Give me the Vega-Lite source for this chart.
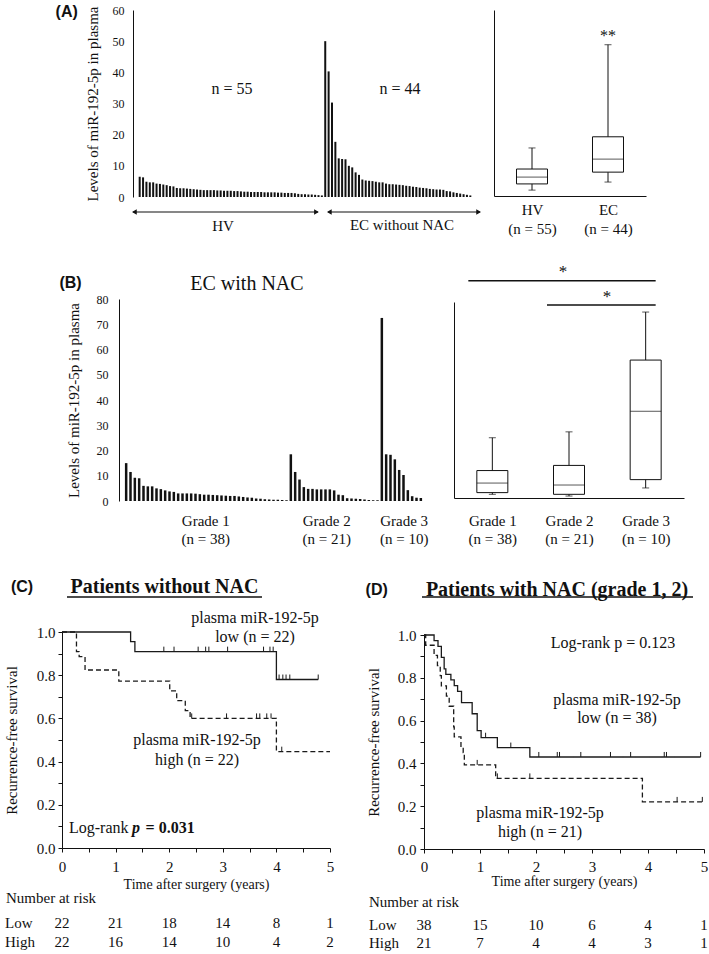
{
"$schema": "https://vega.github.io/schema/vega-lite/v6.json",
"width": 709,
"height": 954,
"autosize": {"type": "none"},
"padding": 0,
"background": "white",
"config": {
  "view": {"stroke": null},
  "axis": {"labelFont": "Liberation Serif", "titleFont": "Liberation Serif", "labelColor": "#111", "titleColor": "#111", "domainColor": "#111", "tickColor": "#111", "grid": false, "titleFontWeight": "normal", "labelFlush": false, "labelOverlap": false, "domainWidth": 1},
  "text": {"font": "Liberation Serif", "color": "#111"},
  "legend": {"disable": true}
},
"data": {"values": [{}]},
"datasets": {
  "barsA": [
    {"i":1,"g":"HV","v":6.5},{"i":2,"g":"HV","v":6.3},{"i":3,"g":"HV","v":4.9},{"i":4,"g":"HV","v":4.7},{"i":5,"g":"HV","v":4.7},{"i":6,"g":"HV","v":4.3},{"i":7,"g":"HV","v":4.2},{"i":8,"g":"HV","v":4.0},{"i":9,"g":"HV","v":3.8},{"i":10,"g":"HV","v":3.5},
    {"i":11,"g":"HV","v":3.4},{"i":12,"g":"HV","v":2.9},{"i":13,"g":"HV","v":2.8},{"i":14,"g":"HV","v":2.8},{"i":15,"g":"HV","v":2.7},{"i":16,"g":"HV","v":2.6},{"i":17,"g":"HV","v":2.5},{"i":18,"g":"HV","v":2.4},{"i":19,"g":"HV","v":2.3},{"i":20,"g":"HV","v":2.2},
    {"i":21,"g":"HV","v":2.2},{"i":22,"g":"HV","v":2.2},{"i":23,"g":"HV","v":2.2},{"i":24,"g":"HV","v":2.1},{"i":25,"g":"HV","v":2.1},{"i":26,"g":"HV","v":2.0},{"i":27,"g":"HV","v":2.0},{"i":28,"g":"HV","v":2.0},{"i":29,"g":"HV","v":1.9},{"i":30,"g":"HV","v":1.9},
    {"i":31,"g":"HV","v":1.8},{"i":32,"g":"HV","v":1.7},{"i":33,"g":"HV","v":1.7},{"i":34,"g":"HV","v":1.6},{"i":35,"g":"HV","v":1.6},{"i":36,"g":"HV","v":1.6},{"i":37,"g":"HV","v":1.6},{"i":38,"g":"HV","v":1.5},{"i":39,"g":"HV","v":1.5},{"i":40,"g":"HV","v":1.5},
    {"i":41,"g":"HV","v":1.5},{"i":42,"g":"HV","v":1.4},{"i":43,"g":"HV","v":1.4},{"i":44,"g":"HV","v":1.3},{"i":45,"g":"HV","v":1.3},{"i":46,"g":"HV","v":1.3},{"i":47,"g":"HV","v":1.2},{"i":48,"g":"HV","v":1.0},{"i":49,"g":"HV","v":0.9},{"i":50,"g":"HV","v":0.9},
    {"i":51,"g":"HV","v":0.8},{"i":52,"g":"HV","v":0.8},{"i":53,"g":"HV","v":0.7},{"i":54,"g":"HV","v":0.6},{"i":55,"g":"HV","v":0.5},
    {"i":56,"g":"EC","v":50},{"i":57,"g":"EC","v":40.3},{"i":58,"g":"EC","v":30.3},{"i":59,"g":"EC","v":17.7},{"i":60,"g":"EC","v":12.4},{"i":61,"g":"EC","v":12.2},{"i":62,"g":"EC","v":12.1},{"i":63,"g":"EC","v":10.0},{"i":64,"g":"EC","v":9.5},{"i":65,"g":"EC","v":7.9},
    {"i":66,"g":"EC","v":7.1},{"i":67,"g":"EC","v":5.6},{"i":68,"g":"EC","v":5.3},{"i":69,"g":"EC","v":5.2},{"i":70,"g":"EC","v":5.1},{"i":71,"g":"EC","v":4.9},{"i":72,"g":"EC","v":4.7},{"i":73,"g":"EC","v":4.7},{"i":74,"g":"EC","v":4.3},{"i":75,"g":"EC","v":4.1},
    {"i":76,"g":"EC","v":4.1},{"i":77,"g":"EC","v":4.0},{"i":78,"g":"EC","v":3.9},{"i":79,"g":"EC","v":3.8},{"i":80,"g":"EC","v":3.6},{"i":81,"g":"EC","v":3.5},{"i":82,"g":"EC","v":3.3},{"i":83,"g":"EC","v":3.2},{"i":84,"g":"EC","v":3.0},{"i":85,"g":"EC","v":2.9},
    {"i":86,"g":"EC","v":2.8},{"i":87,"g":"EC","v":2.6},{"i":88,"g":"EC","v":2.5},{"i":89,"g":"EC","v":2.4},{"i":90,"g":"EC","v":2.4},{"i":91,"g":"EC","v":2.3},{"i":92,"g":"EC","v":1.9},{"i":93,"g":"EC","v":1.8},{"i":94,"g":"EC","v":1.5},{"i":95,"g":"EC","v":1.3},
    {"i":96,"g":"EC","v":1.1},{"i":97,"g":"EC","v":0.9},{"i":98,"g":"EC","v":0.7},{"i":99,"g":"EC","v":0.5}
  ],
  "barsB": [
    {"i":1,"g":"Grade 1","v":15},{"i":2,"g":"Grade 1","v":11.5},{"i":3,"g":"Grade 1","v":9.2},{"i":4,"g":"Grade 1","v":9},{"i":5,"g":"Grade 1","v":6},{"i":6,"g":"Grade 1","v":5.8},{"i":7,"g":"Grade 1","v":5.8},{"i":8,"g":"Grade 1","v":5},{"i":9,"g":"Grade 1","v":4.7},{"i":10,"g":"Grade 1","v":4.2},
    {"i":11,"g":"Grade 1","v":3.8},{"i":12,"g":"Grade 1","v":3.6},{"i":13,"g":"Grade 1","v":3.0},{"i":14,"g":"Grade 1","v":3.0},{"i":15,"g":"Grade 1","v":3.0},{"i":16,"g":"Grade 1","v":3.0},{"i":17,"g":"Grade 1","v":2.9},{"i":18,"g":"Grade 1","v":2.7},{"i":19,"g":"Grade 1","v":2.5},{"i":20,"g":"Grade 1","v":2.5},
    {"i":21,"g":"Grade 1","v":2.4},{"i":22,"g":"Grade 1","v":2.3},{"i":23,"g":"Grade 1","v":2.2},{"i":24,"g":"Grade 1","v":2.1},{"i":25,"g":"Grade 1","v":2.0},{"i":26,"g":"Grade 1","v":2.0},{"i":27,"g":"Grade 1","v":1.8},{"i":28,"g":"Grade 1","v":1.6},{"i":29,"g":"Grade 1","v":1.4},{"i":30,"g":"Grade 1","v":1.3},
    {"i":31,"g":"Grade 1","v":1.0},{"i":32,"g":"Grade 1","v":0.9},{"i":33,"g":"Grade 1","v":0.7},{"i":34,"g":"Grade 1","v":0.6},{"i":35,"g":"Grade 1","v":0.5},{"i":36,"g":"Grade 1","v":0.5},{"i":37,"g":"Grade 1","v":0.4},{"i":38,"g":"Grade 1","v":0.3},
    {"i":39,"g":"Grade 2","v":18.5},{"i":40,"g":"Grade 2","v":11.5},{"i":41,"g":"Grade 2","v":8.5},{"i":42,"g":"Grade 2","v":5.5},{"i":43,"g":"Grade 2","v":4.8},{"i":44,"g":"Grade 2","v":4.8},{"i":45,"g":"Grade 2","v":4.6},{"i":46,"g":"Grade 2","v":4.6},{"i":47,"g":"Grade 2","v":4.6},{"i":48,"g":"Grade 2","v":4.6},
    {"i":49,"g":"Grade 2","v":4.2},{"i":50,"g":"Grade 2","v":2.5},{"i":51,"g":"Grade 2","v":2.3},{"i":52,"g":"Grade 2","v":1.1},{"i":53,"g":"Grade 2","v":1.0},{"i":54,"g":"Grade 2","v":0.9},{"i":55,"g":"Grade 2","v":0.8},{"i":56,"g":"Grade 2","v":0.6},{"i":57,"g":"Grade 2","v":0.4},{"i":58,"g":"Grade 2","v":0.3},
    {"i":59,"g":"Grade 2","v":0.3},
    {"i":60,"g":"Grade 3","v":72.5},{"i":61,"g":"Grade 3","v":18.5},{"i":62,"g":"Grade 3","v":18.3},{"i":63,"g":"Grade 3","v":16.5},{"i":64,"g":"Grade 3","v":12.3},{"i":65,"g":"Grade 3","v":10.3},{"i":66,"g":"Grade 3","v":4.3},{"i":67,"g":"Grade 3","v":1.9},{"i":68,"g":"Grade 3","v":1.3},{"i":69,"g":"Grade 3","v":1.2}
  ],
  "boxA": [
    {"g":"HV","min":1.9,"q1":3.9,"med":6.1,"q3":8.7,"max":15.5},
    {"g":"EC","min":4.5,"q1":7.7,"med":11.9,"q3":19.1,"max":48.8}
  ],
  "boxB": [
    {"g":"Grade 1","min":1.5,"q1":2.2,"med":6.1,"q3":11.2,"max":24.6},
    {"g":"Grade 2","min":0.8,"q1":1.5,"med":5.3,"q3":13.3,"max":27},
    {"g":"Grade 3","min":4.1,"q1":7.5,"med":35.4,"q3":56.3,"max":75.9}
  ],
  "kmC": [
    {"grp":"low","t":0,"s":1},{"grp":"low","t":1.28,"s":0.955},{"grp":"low","t":1.36,"s":0.909},{"grp":"low","t":4.0,"s":0.78},{"grp":"low","t":4.78,"s":0.78},
    {"grp":"high","t":0,"s":1},{"grp":"high","t":0.27,"s":0.909},{"grp":"high","t":0.32,"s":0.886},{"grp":"high","t":0.43,"s":0.824},{"grp":"high","t":1.06,"s":0.773},{"grp":"high","t":2.01,"s":0.727},{"grp":"high","t":2.14,"s":0.682},{"grp":"high","t":2.3,"s":0.636},{"grp":"high","t":2.39,"s":0.6},{"grp":"high","t":4.0,"s":0.446},{"grp":"high","t":5.0,"s":0.446}
  ],
  "censC": [
    {"grp":"low","t":1.9,"s":0.909},{"grp":"low","t":2.09,"s":0.909},{"grp":"low","t":2.54,"s":0.909},{"grp":"low","t":2.68,"s":0.909},{"grp":"low","t":2.74,"s":0.909},{"grp":"low","t":3.09,"s":0.909},{"grp":"low","t":3.76,"s":0.909},{"grp":"low","t":3.88,"s":0.909},{"grp":"low","t":3.94,"s":0.909},
    {"grp":"low","t":4.05,"s":0.78},{"grp":"low","t":4.12,"s":0.78},{"grp":"low","t":4.18,"s":0.78},{"grp":"low","t":4.25,"s":0.78},{"grp":"low","t":4.78,"s":0.78},
    {"grp":"high","t":2.42,"s":0.6},{"grp":"high","t":3.07,"s":0.6},{"grp":"high","t":3.63,"s":0.6},{"grp":"high","t":3.69,"s":0.6},{"grp":"high","t":3.82,"s":0.6},{"grp":"high","t":3.9,"s":0.6},{"grp":"high","t":4.1,"s":0.446}
  ],
  "riskC": [
    {"grp":"Low","t":0,"n":22},{"grp":"Low","t":1,"n":21},{"grp":"Low","t":2,"n":18},{"grp":"Low","t":3,"n":14},{"grp":"Low","t":4,"n":8},{"grp":"Low","t":5,"n":1},
    {"grp":"High","t":0,"n":22},{"grp":"High","t":1,"n":16},{"grp":"High","t":2,"n":14},{"grp":"High","t":3,"n":10},{"grp":"High","t":4,"n":4},{"grp":"High","t":5,"n":2}
  ],
  "kmD": [
    {"grp":"low","t":0,"s":1},{"grp":"low","t":0.18,"s":0.974},{"grp":"low","t":0.25,"s":0.947},{"grp":"low","t":0.31,"s":0.895},{"grp":"low","t":0.36,"s":0.842},{"grp":"low","t":0.39,"s":0.816},{"grp":"low","t":0.48,"s":0.79},{"grp":"low","t":0.54,"s":0.763},{"grp":"low","t":0.6,"s":0.737},{"grp":"low","t":0.67,"s":0.684},{"grp":"low","t":0.86,"s":0.632},{"grp":"low","t":0.95,"s":0.553},{"grp":"low","t":1.02,"s":0.52},{"grp":"low","t":1.31,"s":0.474},{"grp":"low","t":1.89,"s":0.43},{"grp":"low","t":4.94,"s":0.43},
    {"grp":"high","t":0,"s":1},{"grp":"high","t":0.03,"s":0.952},{"grp":"high","t":0.18,"s":0.905},{"grp":"high","t":0.24,"s":0.857},{"grp":"high","t":0.29,"s":0.81},{"grp":"high","t":0.31,"s":0.762},{"grp":"high","t":0.4,"s":0.714},{"grp":"high","t":0.45,"s":0.667},{"grp":"high","t":0.53,"s":0.571},{"grp":"high","t":0.54,"s":0.524},{"grp":"high","t":0.66,"s":0.476},{"grp":"high","t":0.7,"s":0.45},{"grp":"high","t":0.72,"s":0.393},{"grp":"high","t":1.28,"s":0.33},{"grp":"high","t":3.9,"s":0.22},{"grp":"high","t":4.97,"s":0.22}
  ],
  "censD": [
    {"grp":"low","t":1.1,"s":0.52},{"grp":"low","t":1.55,"s":0.474},{"grp":"low","t":2.05,"s":0.43},{"grp":"low","t":2.38,"s":0.43},{"grp":"low","t":2.42,"s":0.43},{"grp":"low","t":2.8,"s":0.43},{"grp":"low","t":3.33,"s":0.43},{"grp":"low","t":3.69,"s":0.43},{"grp":"low","t":4.29,"s":0.43},{"grp":"low","t":4.33,"s":0.43},{"grp":"low","t":4.94,"s":0.43},
    {"grp":"high","t":0.95,"s":0.393},{"grp":"high","t":1.31,"s":0.33},{"grp":"high","t":1.89,"s":0.33},{"grp":"high","t":4.52,"s":0.22},{"grp":"high","t":4.97,"s":0.22}
  ],
  "riskD": [
    {"grp":"Low","t":0,"n":38},{"grp":"Low","t":1,"n":15},{"grp":"Low","t":2,"n":10},{"grp":"Low","t":3,"n":6},{"grp":"Low","t":4,"n":4},{"grp":"Low","t":5,"n":1},
    {"grp":"High","t":0,"n":21},{"grp":"High","t":1,"n":7},{"grp":"High","t":2,"n":4},{"grp":"High","t":3,"n":4},{"grp":"High","t":4,"n":3},{"grp":"High","t":5,"n":1}
  ]
},
"resolve": {"scale": {"x": "independent", "y": "independent"}, "axis": {"x": "independent", "y": "independent"}},
"layer": [
  {"data": {"name": "barsA"}, "mark": {"type": "bar", "width": 2, "color": "#111"},
   "encoding": {
     "x": {"field": "i", "type": "quantitative", "scale": {"domain": [0.5, 99.5], "range": [133, 477], "nice": false, "zero": false}, "axis": null},
     "y": {"field": "v", "type": "quantitative", "scale": {"domain": [0, 60], "range": [197, 10], "nice": false, "zero": false}, "axis": {"orient": "left", "offset": -133, "values": [0, 10, 20, 30, 40, 50, 60], "tickSize": 0, "labelPadding": 9, "labelFontSize": 12, "title": "Levels of miR-192-5p in plasma", "titleFontSize": 15, "titlePadding": 12}}
   }},
  {"mark": {"type": "text", "text": "n = 55", "fontSize": 16}, "encoding": {"x": {"datum": 28.99, "scale": {"domain": [0.5, 99.5], "range": [133, 477], "nice": false, "zero": false}, "axis": null}, "y": {"datum": 34.65, "scale": {"domain": [0, 60], "range": [197, 10], "nice": false, "zero": false}, "axis": null}}},
  {"mark": {"type": "text", "text": "n = 44", "fontSize": 16}, "encoding": {"x": {"datum": 77.34, "scale": {"domain": [0.5, 99.5], "range": [133, 477], "nice": false, "zero": false}, "axis": null}, "y": {"datum": 34.65, "scale": {"domain": [0, 60], "range": [197, 10], "nice": false, "zero": false}, "axis": null}}},
  {"mark": {"type": "text", "text": "(A)", "fontSize": 16, "font": "Liberation Sans", "fontWeight": "bold"}, "encoding": {"x": {"datum": -18.58, "scale": {"domain": [0.5, 99.5], "range": [133, 477], "nice": false, "zero": false}, "axis": null}, "y": {"datum": 59.36, "scale": {"domain": [0, 60], "range": [197, 10], "nice": false, "zero": false}, "axis": null}}},
  {"mark": {"type": "rule", "color": "#111", "strokeWidth": 1.2}, "encoding": {"x": {"datum": 0.5, "scale": {"domain": [0.5, 99.5], "range": [133, 477], "nice": false, "zero": false}, "axis": null}, "x2": {"datum": 53.74}, "y": {"datum": -4.81, "scale": {"domain": [0, 60], "range": [197, 10], "nice": false, "zero": false}, "axis": null}}},
  {"mark": {"type": "rule", "color": "#111", "strokeWidth": 1.2}, "encoding": {"x": {"datum": 56.62, "scale": {"domain": [0.5, 99.5], "range": [133, 477], "nice": false, "zero": false}, "axis": null}, "x2": {"datum": 100.37}, "y": {"datum": -4.81, "scale": {"domain": [0, 60], "range": [197, 10], "nice": false, "zero": false}, "axis": null}}},
  {"mark": {"type": "point", "shape": "triangle-left", "size": 30, "filled": true, "color": "#111", "opacity": 1}, "encoding": {"x": {"datum": 0.9, "scale": {"domain": [0.5, 99.5], "range": [133, 477], "nice": false, "zero": false}, "axis": null}, "y": {"datum": -4.81, "scale": {"domain": [0, 60], "range": [197, 10], "nice": false, "zero": false}, "axis": null}}},
  {"mark": {"type": "point", "shape": "triangle-right", "size": 30, "filled": true, "color": "#111", "opacity": 1}, "encoding": {"x": {"datum": 53.3, "scale": {"domain": [0.5, 99.5], "range": [133, 477], "nice": false, "zero": false}, "axis": null}, "y": {"datum": -4.81, "scale": {"domain": [0, 60], "range": [197, 10], "nice": false, "zero": false}, "axis": null}}},
  {"mark": {"type": "point", "shape": "triangle-left", "size": 30, "filled": true, "color": "#111", "opacity": 1}, "encoding": {"x": {"datum": 57.0, "scale": {"domain": [0.5, 99.5], "range": [133, 477], "nice": false, "zero": false}, "axis": null}, "y": {"datum": -4.81, "scale": {"domain": [0, 60], "range": [197, 10], "nice": false, "zero": false}, "axis": null}}},
  {"mark": {"type": "point", "shape": "triangle-right", "size": 30, "filled": true, "color": "#111", "opacity": 1}, "encoding": {"x": {"datum": 99.97, "scale": {"domain": [0.5, 99.5], "range": [133, 477], "nice": false, "zero": false}, "axis": null}, "y": {"datum": -4.81, "scale": {"domain": [0, 60], "range": [197, 10], "nice": false, "zero": false}, "axis": null}}},
  {"mark": {"type": "text", "text": "HV", "fontSize": 15}, "encoding": {"x": {"datum": 26.4, "scale": {"domain": [0.5, 99.5], "range": [133, 477], "nice": false, "zero": false}, "axis": null}, "y": {"datum": -9.3, "scale": {"domain": [0, 60], "range": [197, 10], "nice": false, "zero": false}, "axis": null}}},
  {"mark": {"type": "text", "text": "EC without NAC", "fontSize": 15}, "encoding": {"x": {"datum": 77.92, "scale": {"domain": [0.5, 99.5], "range": [133, 477], "nice": false, "zero": false}, "axis": null}, "y": {"datum": -8.98, "scale": {"domain": [0, 60], "range": [197, 10], "nice": false, "zero": false}, "axis": null}}},

  {"data": {"name": "boxA"}, "mark": {"type": "rule", "color": "#111"},
   "encoding": {
     "x": {"field": "g", "type": "nominal", "scale": {"type": "point", "domain": ["HV", "EC"], "range": [494, 646], "padding": 0.5}, "axis": {"orient": "bottom", "offset": -758, "labelExpr": "datum.value === 'HV' ? ['HV', '(n = 55)'] : ['EC', '(n = 44)']", "ticks": false, "labelFontSize": 15, "labelLineHeight": 19, "labelPadding": 6, "labelAngle": 0, "title": null}},
     "y": {"field": "min", "type": "quantitative", "scale": {"domain": [0, 60], "range": [196, 10], "nice": false, "zero": false}, "axis": {"orient": "left", "offset": -494, "labels": false, "ticks": false, "title": null}},
     "y2": {"field": "max"}
   }},
  {"data": {"name": "boxA"}, "mark": {"type": "tick", "size": 7, "thickness": 1, "color": "#111"}, "encoding": {"x": {"field": "g", "type": "nominal", "scale": {"type": "point", "domain": ["HV", "EC"], "range": [494, 646], "padding": 0.5}, "axis": null}, "y": {"field": "min", "type": "quantitative", "scale": {"domain": [0, 60], "range": [196, 10], "nice": false, "zero": false}, "axis": null}}},
  {"data": {"name": "boxA"}, "mark": {"type": "tick", "size": 7, "thickness": 1, "color": "#111"}, "encoding": {"x": {"field": "g", "type": "nominal", "scale": {"type": "point", "domain": ["HV", "EC"], "range": [494, 646], "padding": 0.5}, "axis": null}, "y": {"field": "max", "type": "quantitative", "scale": {"domain": [0, 60], "range": [196, 10], "nice": false, "zero": false}, "axis": null}}},
  {"data": {"name": "boxA"}, "mark": {"type": "bar", "width": 31, "fill": "white", "stroke": "#111", "strokeWidth": 1}, "encoding": {"x": {"field": "g", "type": "nominal", "scale": {"type": "point", "domain": ["HV", "EC"], "range": [494, 646], "padding": 0.5}, "axis": null}, "y": {"field": "q1", "type": "quantitative", "scale": {"domain": [0, 60], "range": [196, 10], "nice": false, "zero": false}, "axis": null}, "y2": {"field": "q3"}}},
  {"data": {"name": "boxA"}, "mark": {"type": "tick", "size": 31, "thickness": 1, "color": "#111"}, "encoding": {"x": {"field": "g", "type": "nominal", "scale": {"type": "point", "domain": ["HV", "EC"], "range": [494, 646], "padding": 0.5}, "axis": null}, "y": {"field": "med", "type": "quantitative", "scale": {"domain": [0, 60], "range": [196, 10], "nice": false, "zero": false}, "axis": null}}},
  {"mark": {"type": "text", "text": "**", "fontSize": 16}, "encoding": {"x": {"datum": "EC", "type": "nominal", "scale": {"type": "point", "domain": ["HV", "EC"], "range": [494, 646], "padding": 0.5}, "axis": null}, "y": {"datum": 51.6, "type": "quantitative", "scale": {"domain": [0, 60], "range": [196, 10], "nice": false, "zero": false}, "axis": null}}},

  {"data": {"name": "barsB"}, "mark": {"type": "bar", "width": 2.5, "color": "#111"},
   "encoding": {
     "x": {"field": "i", "type": "quantitative", "scale": {"domain": [0.5, 69.5], "range": [119, 428], "nice": false, "zero": false}, "axis": {"orient": "bottom", "offset": -453, "values": [19.26, 47.17, 65.04], "labelExpr": "datum.value < 30 ? ['Grade 1', '(n = 38)'] : datum.value < 55 ? ['Grade 2', '(n = 21)'] : ['Grade 3', '(n = 10)']", "domain": false, "ticks": false, "labelPadding": 12, "labelFontSize": 15, "labelLineHeight": 18, "title": null}},
     "y": {"field": "v", "type": "quantitative", "scale": {"domain": [0, 80], "range": [501, 299], "nice": false, "zero": false}, "axis": {"orient": "left", "offset": -119, "values": [0, 10, 20, 30, 40, 50, 60, 70, 80], "tickSize": 0, "labelPadding": 11, "labelFontSize": 12, "title": "Levels of miR-192-5p in plasma", "titleFontSize": 15, "titlePadding": 15}}
   }},
  {"mark": {"type": "text", "text": "EC with NAC", "fontSize": 20}, "encoding": {"x": {"datum": 29.08, "scale": {"domain": [0.5, 69.5], "range": [119, 428], "nice": false, "zero": false}, "axis": null}, "y": {"datum": 85.9, "scale": {"domain": [0, 80], "range": [501, 299], "nice": false, "zero": false}, "axis": null}}},
  {"mark": {"type": "text", "text": "(B)", "fontSize": 16, "font": "Liberation Sans", "fontWeight": "bold"}, "encoding": {"x": {"datum": -10.33, "scale": {"domain": [0.5, 69.5], "range": [119, 428], "nice": false, "zero": false}, "axis": null}, "y": {"datum": 86.34, "scale": {"domain": [0, 80], "range": [501, 299], "nice": false, "zero": false}, "axis": null}}},

  {"data": {"name": "boxB"}, "mark": {"type": "rule", "color": "#111"},
   "encoding": {
     "x": {"field": "g", "type": "nominal", "scale": {"type": "point", "domain": ["Grade 1", "Grade 2", "Grade 3"], "range": [454, 684], "padding": 0.5}, "axis": {"orient": "bottom", "offset": -456, "labelExpr": "datum.value === 'Grade 1' ? ['Grade 1', '(n = 38)'] : datum.value === 'Grade 2' ? ['Grade 2', '(n = 21)'] : ['Grade 3', '(n = 10)']", "ticks": false, "labelFontSize": 15, "labelLineHeight": 18, "labelPadding": 15, "labelAngle": 0, "title": null}},
     "y": {"field": "min", "type": "quantitative", "scale": {"domain": [0, 80], "range": [498, 302], "nice": false, "zero": false}, "axis": {"orient": "left", "offset": -454, "labels": false, "ticks": false, "title": null}},
     "y2": {"field": "max"}
   }},
  {"data": {"name": "boxB"}, "mark": {"type": "tick", "size": 7, "thickness": 1, "color": "#111"}, "encoding": {"x": {"field": "g", "type": "nominal", "scale": {"type": "point", "domain": ["Grade 1", "Grade 2", "Grade 3"], "range": [454, 684], "padding": 0.5}, "axis": null}, "y": {"field": "min", "type": "quantitative", "scale": {"domain": [0, 80], "range": [498, 302], "nice": false, "zero": false}, "axis": null}}},
  {"data": {"name": "boxB"}, "mark": {"type": "tick", "size": 7, "thickness": 1, "color": "#111"}, "encoding": {"x": {"field": "g", "type": "nominal", "scale": {"type": "point", "domain": ["Grade 1", "Grade 2", "Grade 3"], "range": [454, 684], "padding": 0.5}, "axis": null}, "y": {"field": "max", "type": "quantitative", "scale": {"domain": [0, 80], "range": [498, 302], "nice": false, "zero": false}, "axis": null}}},
  {"data": {"name": "boxB"}, "mark": {"type": "bar", "width": 31, "fill": "white", "stroke": "#111", "strokeWidth": 1}, "encoding": {"x": {"field": "g", "type": "nominal", "scale": {"type": "point", "domain": ["Grade 1", "Grade 2", "Grade 3"], "range": [454, 684], "padding": 0.5}, "axis": null}, "y": {"field": "q1", "type": "quantitative", "scale": {"domain": [0, 80], "range": [498, 302], "nice": false, "zero": false}, "axis": null}, "y2": {"field": "q3"}}},
  {"data": {"name": "boxB"}, "mark": {"type": "tick", "size": 31, "thickness": 1, "color": "#111"}, "encoding": {"x": {"field": "g", "type": "nominal", "scale": {"type": "point", "domain": ["Grade 1", "Grade 2", "Grade 3"], "range": [454, 684], "padding": 0.5}, "axis": null}, "y": {"field": "med", "type": "quantitative", "scale": {"domain": [0, 80], "range": [498, 302], "nice": false, "zero": false}, "axis": null}}},
  {"mark": {"type": "rule", "color": "#111", "strokeWidth": 1.5, "xOffset": -24, "x2Offset": 10}, "encoding": {"x": {"datum": "Grade 1", "type": "nominal", "scale": {"type": "point", "domain": ["Grade 1", "Grade 2", "Grade 3"], "range": [454, 684], "padding": 0.5}, "axis": null}, "x2": {"datum": "Grade 3"}, "y": {"datum": 88.7, "type": "quantitative", "scale": {"domain": [0, 80], "range": [498, 302], "nice": false, "zero": false}, "axis": null}}},
  {"mark": {"type": "rule", "color": "#111", "strokeWidth": 1.5, "xOffset": -22, "x2Offset": 10}, "encoding": {"x": {"datum": "Grade 2", "type": "nominal", "scale": {"type": "point", "domain": ["Grade 1", "Grade 2", "Grade 3"], "range": [454, 684], "padding": 0.5}, "axis": null}, "x2": {"datum": "Grade 3"}, "y": {"datum": 78.8, "type": "quantitative", "scale": {"domain": [0, 80], "range": [498, 302], "nice": false, "zero": false}, "axis": null}}},
  {"mark": {"type": "text", "text": "*", "fontSize": 17, "dx": -6}, "encoding": {"x": {"datum": "Grade 2", "type": "nominal", "scale": {"type": "point", "domain": ["Grade 1", "Grade 2", "Grade 3"], "range": [454, 684], "padding": 0.5}, "axis": null}, "y": {"datum": 92.2, "type": "quantitative", "scale": {"domain": [0, 80], "range": [498, 302], "nice": false, "zero": false}, "axis": null}}},
  {"mark": {"type": "text", "text": "*", "fontSize": 17, "dx": 38}, "encoding": {"x": {"datum": "Grade 2", "type": "nominal", "scale": {"type": "point", "domain": ["Grade 1", "Grade 2", "Grade 3"], "range": [454, 684], "padding": 0.5}, "axis": null}, "y": {"datum": 82.0, "type": "quantitative", "scale": {"domain": [0, 80], "range": [498, 302], "nice": false, "zero": false}, "axis": null}}},

  {"data": {"name": "kmC"}, "mark": {"type": "line", "interpolate": "step-after", "color": "#1a1a1a", "strokeWidth": 1.3},
   "encoding": {
     "x": {"field": "t", "type": "quantitative", "scale": {"domain": [0, 5], "range": [62, 330], "nice": false, "zero": false}, "axis": {"orient": "bottom", "offset": -106, "values": [0, 0.5, 1, 1.5, 2, 2.5, 3, 3.5, 4, 4.5, 5], "labelExpr": "datum.value % 1 === 0 ? format(datum.value, 'd') : ''", "tickSize": 4, "labelPadding": 7, "labelFontSize": 15, "title": "Time after surgery (years)", "titleFontSize": 14, "titlePadding": 3}},
     "y": {"field": "s", "type": "quantitative", "scale": {"domain": [0, 1], "range": [848, 632], "nice": false, "zero": false}, "axis": {"orient": "left", "offset": -62, "values": [0, 0.1, 0.2, 0.3, 0.4, 0.5, 0.6, 0.7, 0.8, 0.9, 1], "labelExpr": "round(datum.value * 10) % 2 === 0 ? format(datum.value, '.1f') : ''", "tickSize": 4, "labelPadding": 3, "labelFontSize": 15, "title": "Recurrence-free survival", "titleFontSize": 15, "titlePadding": 17}},
     "strokeDash": {"field": "grp", "type": "nominal", "scale": {"domain": ["low", "high"], "range": [[1, 0], [5, 3]]}, "legend": null}
   }},
  {"data": {"name": "censC"}, "mark": {"type": "point", "shape": "M0,0L0,-1", "size": 100, "filled": false, "color": "#1a1a1a", "strokeWidth": 1, "opacity": 1},
   "encoding": {"x": {"field": "t", "type": "quantitative", "scale": {"domain": [0, 5], "range": [62, 330], "nice": false, "zero": false}, "axis": null}, "y": {"field": "s", "type": "quantitative", "scale": {"domain": [0, 1], "range": [848, 632], "nice": false, "zero": false}, "axis": null}}},
  {"mark": {"type": "text", "text": "(C)", "fontSize": 16, "font": "Liberation Sans", "fontWeight": "bold"}, "encoding": {"x": {"datum": -0.746, "scale": {"domain": [0, 5], "range": [62, 330], "nice": false, "zero": false}, "axis": null}, "y": {"datum": 1.208, "scale": {"domain": [0, 1], "range": [848, 632], "nice": false, "zero": false}, "axis": null}}},
  {"mark": {"type": "text", "text": "Patients without NAC", "fontSize": 20, "fontWeight": "bold"}, "encoding": {"x": {"datum": 1.912, "scale": {"domain": [0, 5], "range": [62, 330], "nice": false, "zero": false}, "axis": null}, "y": {"datum": 1.208, "scale": {"domain": [0, 1], "range": [848, 632], "nice": false, "zero": false}, "axis": null}}},
  {"mark": {"type": "rule", "color": "#111", "strokeWidth": 1.5}, "encoding": {"x": {"datum": 0.093, "scale": {"domain": [0, 5], "range": [62, 330], "nice": false, "zero": false}, "axis": null}, "x2": {"datum": 3.731}, "y": {"datum": 1.162, "scale": {"domain": [0, 1], "range": [848, 632], "nice": false, "zero": false}, "axis": null}}},
  {"mark": {"type": "text", "text": "plasma miR-192-5p", "fontSize": 16}, "encoding": {"x": {"datum": 3.601, "scale": {"domain": [0, 5], "range": [62, 330], "nice": false, "zero": false}, "axis": null}, "y": {"datum": 1.065, "scale": {"domain": [0, 1], "range": [848, 632], "nice": false, "zero": false}, "axis": null}}},
  {"mark": {"type": "text", "text": "low (n = 22)", "fontSize": 16}, "encoding": {"x": {"datum": 3.601, "scale": {"domain": [0, 5], "range": [62, 330], "nice": false, "zero": false}, "axis": null}, "y": {"datum": 0.977, "scale": {"domain": [0, 1], "range": [848, 632], "nice": false, "zero": false}, "axis": null}}},
  {"mark": {"type": "text", "text": "plasma miR-192-5p", "fontSize": 16}, "encoding": {"x": {"datum": 2.519, "scale": {"domain": [0, 5], "range": [62, 330], "nice": false, "zero": false}, "axis": null}, "y": {"datum": 0.5, "scale": {"domain": [0, 1], "range": [848, 632], "nice": false, "zero": false}, "axis": null}}},
  {"mark": {"type": "text", "text": "high (n = 22)", "fontSize": 16}, "encoding": {"x": {"datum": 2.519, "scale": {"domain": [0, 5], "range": [62, 330], "nice": false, "zero": false}, "axis": null}, "y": {"datum": 0.407, "scale": {"domain": [0, 1], "range": [848, 632], "nice": false, "zero": false}, "axis": null}}},
  {"mark": {"type": "text", "text": "Log-rank", "fontSize": 16, "align": "left"}, "encoding": {"x": {"datum": 0.131, "scale": {"domain": [0, 5], "range": [62, 330], "nice": false, "zero": false}, "axis": null}, "y": {"datum": 0.0926, "scale": {"domain": [0, 1], "range": [848, 632], "nice": false, "zero": false}, "axis": null}}},
  {"mark": {"type": "text", "text": "p", "fontSize": 16, "align": "left", "fontWeight": "bold", "fontStyle": "italic"}, "encoding": {"x": {"datum": 1.306, "scale": {"domain": [0, 5], "range": [62, 330], "nice": false, "zero": false}, "axis": null}, "y": {"datum": 0.0926, "scale": {"domain": [0, 1], "range": [848, 632], "nice": false, "zero": false}, "axis": null}}},
  {"mark": {"type": "text", "text": "= 0.031", "fontSize": 16, "align": "left", "fontWeight": "bold"}, "encoding": {"x": {"datum": 1.56, "scale": {"domain": [0, 5], "range": [62, 330], "nice": false, "zero": false}, "axis": null}, "y": {"datum": 0.0926, "scale": {"domain": [0, 1], "range": [848, 632], "nice": false, "zero": false}, "axis": null}}},
  {"mark": {"type": "text", "text": "Number at risk", "fontSize": 15, "align": "left"}, "encoding": {"x": {"datum": -1.045, "scale": {"domain": [0, 5], "range": [62, 330], "nice": false, "zero": false}, "axis": null}, "y": {"datum": -0.2315, "scale": {"domain": [0, 1], "range": [848, 632], "nice": false, "zero": false}, "axis": null}}},
  {"mark": {"type": "text", "text": "Low", "fontSize": 15, "align": "left"}, "encoding": {"x": {"datum": -1.063, "scale": {"domain": [0, 5], "range": [62, 330], "nice": false, "zero": false}, "axis": null}, "y": {"datum": -0.347, "scale": {"domain": [0, 1], "range": [848, 632], "nice": false, "zero": false}, "axis": null}}},
  {"mark": {"type": "text", "text": "High", "fontSize": 15, "align": "left"}, "encoding": {"x": {"datum": -1.063, "scale": {"domain": [0, 5], "range": [62, 330], "nice": false, "zero": false}, "axis": null}, "y": {"datum": -0.435, "scale": {"domain": [0, 1], "range": [848, 632], "nice": false, "zero": false}, "axis": null}}},
  {"data": {"name": "riskC"}, "transform": [{"filter": "datum.grp === 'Low'"}], "mark": {"type": "text", "fontSize": 15}, "encoding": {"x": {"field": "t", "type": "quantitative", "scale": {"domain": [0, 5], "range": [62, 330], "nice": false, "zero": false}, "axis": null}, "y": {"datum": -0.347, "scale": {"domain": [0, 1], "range": [848, 632], "nice": false, "zero": false}, "axis": null}, "text": {"field": "n", "type": "quantitative"}}},
  {"data": {"name": "riskC"}, "transform": [{"filter": "datum.grp === 'High'"}], "mark": {"type": "text", "fontSize": 15}, "encoding": {"x": {"field": "t", "type": "quantitative", "scale": {"domain": [0, 5], "range": [62, 330], "nice": false, "zero": false}, "axis": null}, "y": {"datum": -0.435, "scale": {"domain": [0, 1], "range": [848, 632], "nice": false, "zero": false}, "axis": null}, "text": {"field": "n", "type": "quantitative"}}},

  {"data": {"name": "kmD"}, "mark": {"type": "line", "interpolate": "step-after", "color": "#1a1a1a", "strokeWidth": 1.3},
   "encoding": {
     "x": {"field": "t", "type": "quantitative", "scale": {"domain": [0, 5], "range": [424, 704], "nice": false, "zero": false}, "axis": {"orient": "bottom", "offset": -105, "values": [0, 0.5, 1, 1.5, 2, 2.5, 3, 3.5, 4, 4.5, 5], "labelExpr": "datum.value % 1 === 0 ? format(datum.value, 'd') : ''", "tickSize": 4, "labelPadding": 6, "labelFontSize": 15, "title": "Time after surgery (years)", "titleFontSize": 14, "titlePadding": 0}},
     "y": {"field": "s", "type": "quantitative", "scale": {"domain": [0, 1], "range": [849, 635], "nice": false, "zero": false}, "axis": {"orient": "left", "offset": -424, "values": [0, 0.1, 0.2, 0.3, 0.4, 0.5, 0.6, 0.7, 0.8, 0.9, 1], "labelExpr": "round(datum.value * 10) % 2 === 0 ? format(datum.value, '.1f') : ''", "tickSize": 4, "labelPadding": 4, "labelFontSize": 15, "title": "Recurrence-free survival", "titleFontSize": 15, "titlePadding": 16}},
     "strokeDash": {"field": "grp", "type": "nominal", "scale": {"domain": ["low", "high"], "range": [[1, 0], [5, 3]]}, "legend": null}
   }},
  {"data": {"name": "censD"}, "mark": {"type": "point", "shape": "M0,0L0,-1", "size": 100, "filled": false, "color": "#1a1a1a", "strokeWidth": 1, "opacity": 1},
   "encoding": {"x": {"field": "t", "type": "quantitative", "scale": {"domain": [0, 5], "range": [424, 704], "nice": false, "zero": false}, "axis": null}, "y": {"field": "s", "type": "quantitative", "scale": {"domain": [0, 1], "range": [849, 635], "nice": false, "zero": false}, "axis": null}}},
  {"mark": {"type": "text", "text": "(D)", "fontSize": 16, "font": "Liberation Sans", "fontWeight": "bold"}, "encoding": {"x": {"datum": -0.845, "scale": {"domain": [0, 5], "range": [424, 704], "nice": false, "zero": false}, "axis": null}, "y": {"datum": 1.2103, "scale": {"domain": [0, 1], "range": [849, 635], "nice": false, "zero": false}, "axis": null}}},
  {"mark": {"type": "text", "text": "Patients with NAC (grade 1, 2)", "fontSize": 20, "fontWeight": "bold"}, "encoding": {"x": {"datum": 2.375, "scale": {"domain": [0, 5], "range": [424, 704], "nice": false, "zero": false}, "axis": null}, "y": {"datum": 1.2103, "scale": {"domain": [0, 1], "range": [849, 635], "nice": false, "zero": false}, "axis": null}}},
  {"mark": {"type": "rule", "color": "#111", "strokeWidth": 1.5}, "encoding": {"x": {"datum": -0.036, "scale": {"domain": [0, 5], "range": [424, 704], "nice": false, "zero": false}, "axis": null}, "x2": {"datum": 4.804}, "y": {"datum": 1.1776, "scale": {"domain": [0, 1], "range": [849, 635], "nice": false, "zero": false}, "axis": null}}},
  {"mark": {"type": "text", "text": "Log-rank p = 0.123", "fontSize": 16}, "encoding": {"x": {"datum": 3.375, "scale": {"domain": [0, 5], "range": [424, 704], "nice": false, "zero": false}, "axis": null}, "y": {"datum": 0.9626, "scale": {"domain": [0, 1], "range": [849, 635], "nice": false, "zero": false}, "axis": null}}},
  {"mark": {"type": "text", "text": "plasma miR-192-5p", "fontSize": 16}, "encoding": {"x": {"datum": 3.446, "scale": {"domain": [0, 5], "range": [424, 704], "nice": false, "zero": false}, "axis": null}, "y": {"datum": 0.696, "scale": {"domain": [0, 1], "range": [849, 635], "nice": false, "zero": false}, "axis": null}}},
  {"mark": {"type": "text", "text": "low (n = 38)", "fontSize": 16}, "encoding": {"x": {"datum": 3.446, "scale": {"domain": [0, 5], "range": [424, 704], "nice": false, "zero": false}, "axis": null}, "y": {"datum": 0.612, "scale": {"domain": [0, 1], "range": [849, 635], "nice": false, "zero": false}, "axis": null}}},
  {"mark": {"type": "text", "text": "plasma miR-192-5p", "fontSize": 16}, "encoding": {"x": {"datum": 2.071, "scale": {"domain": [0, 5], "range": [424, 704], "nice": false, "zero": false}, "axis": null}, "y": {"datum": 0.168, "scale": {"domain": [0, 1], "range": [849, 635], "nice": false, "zero": false}, "axis": null}}},
  {"mark": {"type": "text", "text": "high (n = 21)", "fontSize": 16}, "encoding": {"x": {"datum": 2.071, "scale": {"domain": [0, 5], "range": [424, 704], "nice": false, "zero": false}, "axis": null}, "y": {"datum": 0.0794, "scale": {"domain": [0, 1], "range": [849, 635], "nice": false, "zero": false}, "axis": null}}},
  {"mark": {"type": "text", "text": "Number at risk", "fontSize": 15, "align": "left"}, "encoding": {"x": {"datum": -0.982, "scale": {"domain": [0, 5], "range": [424, 704], "nice": false, "zero": false}, "axis": null}, "y": {"datum": -0.2477, "scale": {"domain": [0, 1], "range": [849, 635], "nice": false, "zero": false}, "axis": null}}},
  {"mark": {"type": "text", "text": "Low", "fontSize": 15, "align": "left"}, "encoding": {"x": {"datum": -0.982, "scale": {"domain": [0, 5], "range": [424, 704], "nice": false, "zero": false}, "axis": null}, "y": {"datum": -0.3551, "scale": {"domain": [0, 1], "range": [849, 635], "nice": false, "zero": false}, "axis": null}}},
  {"mark": {"type": "text", "text": "High", "fontSize": 15, "align": "left"}, "encoding": {"x": {"datum": -0.982, "scale": {"domain": [0, 5], "range": [424, 704], "nice": false, "zero": false}, "axis": null}, "y": {"datum": -0.4393, "scale": {"domain": [0, 1], "range": [849, 635], "nice": false, "zero": false}, "axis": null}}},
  {"data": {"name": "riskD"}, "transform": [{"filter": "datum.grp === 'Low'"}], "mark": {"type": "text", "fontSize": 15}, "encoding": {"x": {"field": "t", "type": "quantitative", "scale": {"domain": [0, 5], "range": [424, 704], "nice": false, "zero": false}, "axis": null}, "y": {"datum": -0.3551, "scale": {"domain": [0, 1], "range": [849, 635], "nice": false, "zero": false}, "axis": null}, "text": {"field": "n", "type": "quantitative"}}},
  {"data": {"name": "riskD"}, "transform": [{"filter": "datum.grp === 'High'"}], "mark": {"type": "text", "fontSize": 15}, "encoding": {"x": {"field": "t", "type": "quantitative", "scale": {"domain": [0, 5], "range": [424, 704], "nice": false, "zero": false}, "axis": null}, "y": {"datum": -0.4393, "scale": {"domain": [0, 1], "range": [849, 635], "nice": false, "zero": false}, "axis": null}, "text": {"field": "n", "type": "quantitative"}}}
]
}
